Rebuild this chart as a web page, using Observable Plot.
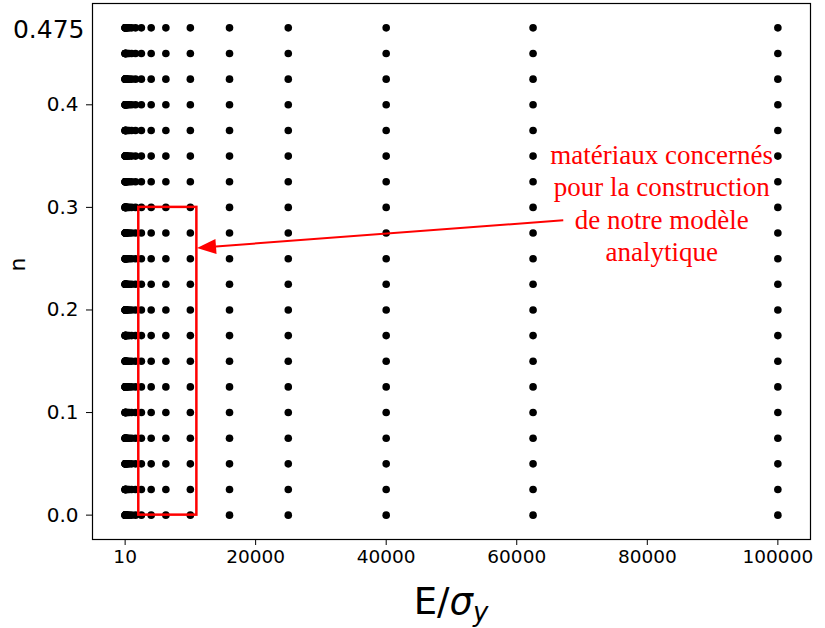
<!DOCTYPE html>
<html><head><meta charset="utf-8">
<script src="https://cdn.jsdelivr.net/npm/d3@7"></script>
<script src="https://cdn.jsdelivr.net/npm/@observablehq/plot@0.6"></script>
<style>body{margin:0;background:#fff} svg{display:block}</style>
</head><body><div id="chart"></div>
<script>
// E/sigma_y values (columns)
const ratios = [10, 16, 25, 40, 62.5, 100, 160, 250, 400, 625, 1000, 1600, 2500, 4000, 6250, 10000, 16000, 25000, 40000, 62500, 100000];
// n values (rows)
const nValues = [0, 0.025, 0.05, 0.075, 0.1, 0.125, 0.15, 0.175, 0.2, 0.225, 0.25, 0.275, 0.3, 0.325, 0.35, 0.375, 0.4, 0.425, 0.45, 0.475];
const xTicks = [10, 20000, 40000, 60000, 80000, 100000];
const yTicks = [0, 0.1, 0.2, 0.3, 0.4];
const yTopLabel = ["0.475"];
const yTopValue = [0.475];
// annotation
const boxX = [2100, 11000];
const boxY = [0, 0.3];
const arrowFrom = [67200, 0.287];
const arrowTo = [11100, 0.26];
const noteText = ["matériaux concernés", "pour la construction", "de notre modèle", "analytique"];
const noteAt = [82200, 0.305];

const points = [];
for (const r of ratios) for (const n of nValues) points.push({r, n});

const xDom = [10 - 0.05 * (100000 - 10), 100000 + 0.05 * (100000 - 10)];
const yDom = [-0.05 * 0.475, 0.475 * 1.05];

const chart = Plot.plot({
  width: 825, height: 628,
  marginLeft: 92, marginRight: 15, marginTop: 3, marginBottom: 89,
  style: {fontFamily: "DejaVu Sans", color: "black", background: "white", overflow: "visible"},
  x: {domain: xDom},
  y: {domain: yDom},
  marks: [
    Plot.axisX({ticks: xTicks, tickFormat: d => String(d), tickSize: 6, tickPadding: 4, fontSize: 18.5, label: null, stroke: "black"}),
    Plot.axisY({ticks: yTicks, tickFormat: d => d.toFixed(1), tickSize: 6, tickPadding: 8, fontSize: 20, label: null, stroke: "black"}),
    Plot.text(yTopLabel, {y: yTopValue, frameAnchor: "left", dx: -8, dy: 2, textAnchor: "end", fontSize: 25, fontFamily: "DejaVu Sans", fill: "black"}),
    Plot.text(["n"], {frameAnchor: "left", dx: -75, rotate: -90, fontSize: 22, fill: "black"}),
    Plot.dot(points, {x: "r", y: "n", r: 3.8, fill: "black", stroke: null}),
    Plot.rect([{x1: boxX[0], x2: boxX[1], y1: boxY[0], y2: boxY[1]}], {x1: "x1", x2: "x2", y1: "y1", y2: "y2", fill: "none", stroke: "red", strokeWidth: 2.5}),
    Plot.text([noteText.join("\n")], {x: [noteAt[0]], y: [noteAt[1]], fill: "red", fontSize: 27, fontFamily: "Liberation Serif", lineHeight: 1.2, textAnchor: "middle"}),
    Plot.frame({stroke: "black", strokeWidth: 1.2})
  ]
});

const sx = chart.scale("x"), sy = chart.scale("y");
const svg = d3.select(chart);
// arrow: line + filled head
const T = [sx.apply(arrowTo[0]), sy.apply(arrowTo[1])];
const S = [sx.apply(arrowFrom[0]), sy.apply(arrowFrom[1])];
const len = Math.hypot(S[0] - T[0], S[1] - T[1]);
const u = [(S[0] - T[0]) / len, (S[1] - T[1]) / len];
const L = 19, w = 7.5;
const B = [T[0] + u[0] * L, T[1] + u[1] * L];
const p = [-u[1], u[0]];
svg.append("line").attr("x1", S[0]).attr("y1", S[1]).attr("x2", B[0]).attr("y2", B[1])
  .attr("stroke", "red").attr("stroke-width", 2);
svg.append("polygon").attr("points", [T, [B[0] + p[0] * w, B[1] + p[1] * w], [B[0] - p[0] * w, B[1] - p[1] * w]].map(d => d.join(",")).join(" "))
  .attr("fill", "red");
// x label with math-style sigma_y
const xl = svg.append("text").attr("x", 451).attr("y", 614).attr("text-anchor", "middle")
  .attr("font-family", "DejaVu Sans").attr("font-size", 37).attr("fill", "black");
xl.append("tspan").text("E/");
xl.append("tspan").attr("font-style", "italic").text("σ");
xl.append("tspan").attr("font-style", "italic").attr("font-size", 26).attr("dy", 7).text("y");

document.getElementById("chart").append(chart);
</script>
</body></html>
